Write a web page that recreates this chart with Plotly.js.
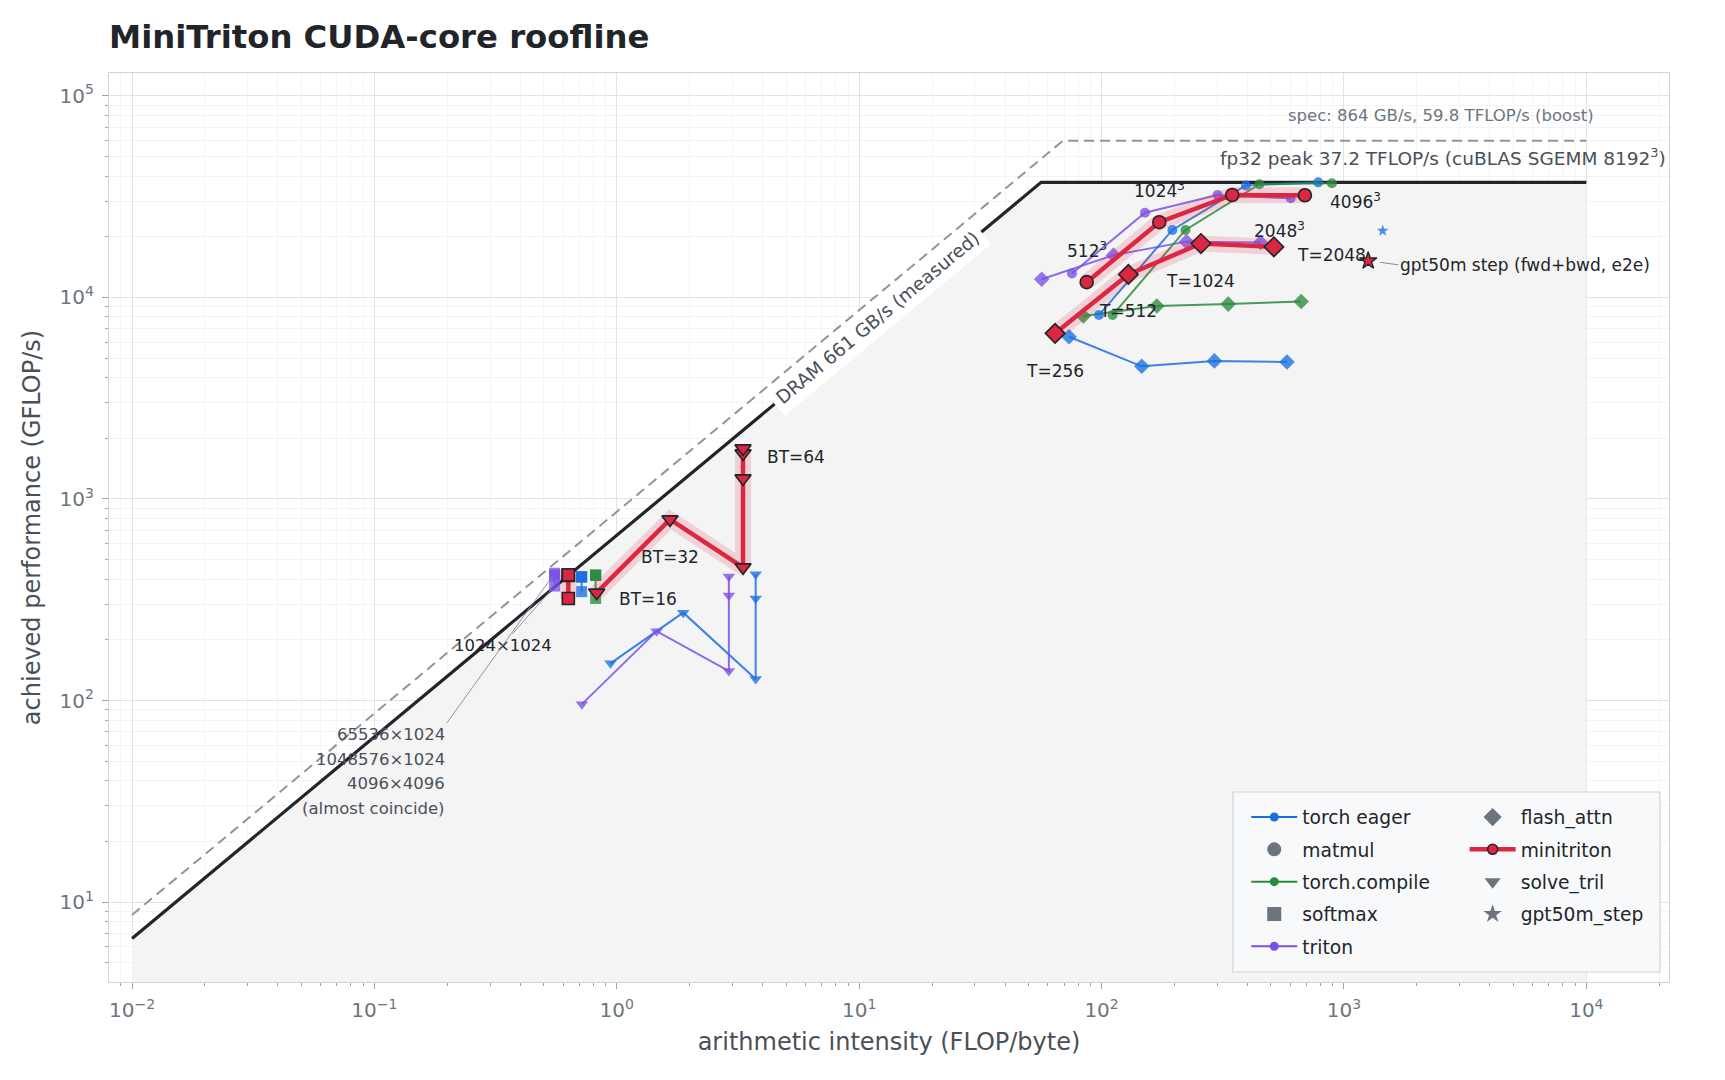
<!DOCTYPE html>
<html>
<head>
<meta charset="utf-8">
<script src="https://cdn.plot.ly/plotly-3.0.1.min.js"></script>
<style>
    html, body { margin: 0; padding: 0; background: #fff; }
    #plotDiv { width: 1725px; height: 1080px; }
</style>
</head>
<body>
<div id="plotDiv"></div>
<script>
// roofline corners (FLOP/byte, GFLOP/s)
const roofX = [0.01, 56.3, 10000];
const roofY = [6.61, 37200, 37200];
const specX = [0.01, 69.2, 10000];
const specY = [8.64, 59800, 59800];

// matmul 512^3 .. 4096^3
const matmulLabels = ['512<sup>3</sup>', '1024<sup>3</sup>', '2048<sup>3</sup>', '4096<sup>3</sup>'];
const matmulEagerAI = [97.5, 196, 394, 783];
const matmulEagerPerf = [8170, 21600, 35900, 37200];
const matmulCompileAI = [111, 222, 448, 892];
const matmulCompilePerf = [8170, 21600, 36400, 36800];
const matmulTritonAI = [75.5, 151, 301, 603];
const matmulTritonPerf = [13150, 26300, 32200, 31000];
const matmulMiniAI = [86.8, 173, 346, 690];
const matmulMiniPerf = [11900, 23600, 32200, 32100];

// flash_attn T=256 .. 2048
const flashLabels = ['T=256', 'T=512', 'T=1024', 'T=2048'];
const flashEagerAI = [73.4, 146.5, 292, 582];
const flashEagerPerf = [6380, 4550, 4840, 4780];
const flashCompileAI = [84.1, 169, 333, 666];
const flashCompilePerf = [8080, 9060, 9260, 9540];
const flashTritonAI = [56.6, 112, 224, 453];
const flashTritonPerf = [12300, 16200, 18900, 18700];
const flashMiniAI = [64.3, 129, 257, 514];
const flashMiniPerf = [6630, 13000, 18500, 17800];

// softmax 1024x1024, 65536x1024, 1048576x1024, 4096x4096
const softmaxEagerAI = [0.716, 0.716, 0.716, 0.716];
const softmaxEagerPerf = [347, 411, 409, 412];
const softmaxCompileAI = [0.818, 0.818, 0.818, 0.818];
const softmaxCompilePerf = [321, 419, 417, 420];
const softmaxTritonAI = [0.554, 0.554, 0.554, 0.554];
const softmaxTritonPerf = [370, 428, 420, 414];
const softmaxMiniAI = [0.631, 0.631, 0.631, 0.631];
const softmaxMiniPerf = [321, 419, 417, 420];

// solve_tril BT=16 / 32 / 64
const trilEagerAI = [0.942, 1.88, 3.74, 3.74, 3.74];
const trilEagerPerf = [153, 273, 128, 321, 423];
const trilTritonAI = [0.718, 1.46, 2.90, 2.90, 2.90];
const trilTritonPerf = [96, 221, 140, 332, 412];
const trilMiniAI = [0.826, 1.658, 3.317, 3.317, 3.317, 3.317];
const trilMiniPerf = [343, 792, 458, 1265, 1683, 1782];

// gpt50m step, end to end
const stepEagerAI = [1445];
const stepEagerPerf = [21400];
const stepMiniAI = [1259];
const stepMiniPerf = [15190];

const xTickVals = [0.01, 0.1, 1, 10, 100, 1000, 10000];
const xTickText = ['10<sup>−2</sup>', '10<sup>−1</sup>', '10<sup>0</sup>', '10<sup>1</sup>', '10<sup>2</sup>', '10<sup>3</sup>', '10<sup>4</sup>'];
const yTickVals = [10, 100, 1000, 10000, 100000];
const yTickText = ['10<sup>1</sup>', '10<sup>2</sup>', '10<sup>3</sup>', '10<sup>4</sup>', '10<sup>5</sup>'];

const colors = {
    eager: '#1a6fe0',
    compile: '#2b8a3e',
    triton: '#7b50e6',
    mini: '#dc2743',
    category: '#6c757d',
    ink: '#212529'
};

function rgba(hex, a) {
    let n = parseInt(hex.slice(1), 16);
    return `rgba(${n >> 16},${(n >> 8) & 255},${n & 255},${a})`;
}

const symbolSize = {circle: 10, square: 11, diamond: 12, 'triangle-down': 11, star: 9};

function frameworkTrace(x, y, color, symbol) {
    return {
        x: x, y: y, type: 'scatter', mode: 'lines+markers',
        line: {color: rgba(color, 0.85), width: 2},
        marker: {symbol: symbol, size: symbolSize[symbol], color: color, opacity: 0.78, line: {width: 0}},
        showlegend: false, hoverinfo: 'skip'
    };
}

function miniTraces(x, y, symbol, size) {
    return [{
        x: x, y: y, type: 'scatter', mode: 'lines',
        line: {color: rgba(colors.mini, 0.17), width: 16},
        showlegend: false, hoverinfo: 'skip'
    }, {
        x: x, y: y, type: 'scatter', mode: 'lines+markers',
        line: {color: colors.mini, width: 4.5},
        marker: {symbol: symbol, size: size, color: colors.mini, line: {color: colors.ink, width: 1.6}},
        showlegend: false, hoverinfo: 'skip'
    }];
}

let traces = [];

// shaded region under the measured roof
traces.push({
    x: [roofX[0]].concat(roofX, [roofX[roofX.length - 1]]),
    y: [1].concat(roofY, [1]),
    type: 'scatter', mode: 'lines', fill: 'toself',
    fillcolor: '#f4f4f5', line: {width: 0},
    showlegend: false, hoverinfo: 'skip'
});
traces.push({
    x: specX, y: specY, type: 'scatter', mode: 'lines',
    line: {color: '#90959b', width: 2, dash: '10px,6px'},
    showlegend: false, hoverinfo: 'skip'
});
traces.push({
    x: roofX, y: roofY, type: 'scatter', mode: 'lines',
    line: {color: colors.ink, width: 3.2},
    showlegend: false, hoverinfo: 'skip'
});

traces.push(frameworkTrace(flashEagerAI, flashEagerPerf, colors.eager, 'diamond'));
traces.push(frameworkTrace(flashCompileAI, flashCompilePerf, colors.compile, 'diamond'));
traces.push(frameworkTrace(flashTritonAI, flashTritonPerf, colors.triton, 'diamond'));
traces.push(frameworkTrace(matmulEagerAI, matmulEagerPerf, colors.eager, 'circle'));
traces.push(frameworkTrace(matmulCompileAI, matmulCompilePerf, colors.compile, 'circle'));
traces.push(frameworkTrace(matmulTritonAI, matmulTritonPerf, colors.triton, 'circle'));
traces.push(frameworkTrace(softmaxEagerAI, softmaxEagerPerf, colors.eager, 'square'));
traces.push(frameworkTrace(softmaxCompileAI, softmaxCompilePerf, colors.compile, 'square'));
traces.push(frameworkTrace(softmaxTritonAI, softmaxTritonPerf, colors.triton, 'square'));
traces.push(frameworkTrace(trilEagerAI, trilEagerPerf, colors.eager, 'triangle-down'));
traces.push(frameworkTrace(trilTritonAI, trilTritonPerf, colors.triton, 'triangle-down'));
traces.push(frameworkTrace(stepEagerAI, stepEagerPerf, colors.eager, 'star'));

traces = traces.concat(
    miniTraces(softmaxMiniAI, softmaxMiniPerf, 'square', 12),
    miniTraces(trilMiniAI, trilMiniPerf, 'triangle-down', 14),
    miniTraces(flashMiniAI, flashMiniPerf, 'diamond', 15),
    miniTraces(matmulMiniAI, matmulMiniPerf, 'circle', 13)
);
traces.push({
    x: stepMiniAI, y: stepMiniPerf, type: 'scatter', mode: 'markers',
    marker: {symbol: 'star', size: 13, color: colors.mini, line: {color: colors.ink, width: 1.4}},
    showlegend: false, hoverinfo: 'skip'
});

// legend entries: two columns, two legends
function legendEntry(name, legend, opts) {
    return Object.assign({
        x: [null], y: [null], type: 'scatter', name: name, legend: legend,
        legendgroup: name, showlegend: true, hoverinfo: 'skip'
    }, opts);
}
function frameworkEntry(name, color) {
    return legendEntry(name, 'legend', {
        mode: 'lines+markers', line: {color: color, width: 2},
        marker: {symbol: 'circle', size: 9, color: color}
    });
}
function categoryEntry(name, legend, symbol) {
    return legendEntry(name, legend, {
        mode: 'markers', marker: {symbol: symbol, size: 14, color: colors.category}
    });
}
traces.push(frameworkEntry('torch eager', colors.eager));
traces.push(categoryEntry('matmul', 'legend', 'circle'));
traces.push(frameworkEntry('torch.compile', colors.compile));
traces.push(categoryEntry('softmax', 'legend', 'square'));
traces.push(frameworkEntry('triton', colors.triton));
traces.push(categoryEntry('flash_attn', 'legend2', 'diamond'));
traces.push(legendEntry('minitriton', 'legend2', {
    mode: 'lines+markers', line: {color: colors.mini, width: 4.5},
    marker: {symbol: 'circle', size: 10, color: colors.mini, line: {color: colors.ink, width: 1.5}}
}));
traces.push(categoryEntry('solve_tril', 'legend2', 'triangle-down'));
traces.push(categoryEntry('gpt50m_step', 'legend2', 'star'));

function lg(v) {
    return Math.log10(v);
}

function pointLabel(x, y, text, xshift, yshift, xanchor) {
    return {
        x: lg(x), y: lg(y), xref: 'x', yref: 'y', text: text, showarrow: false,
        xshift: xshift, yshift: yshift, xanchor: xanchor, yanchor: 'middle',
        font: {size: 17, color: colors.ink}
    };
}

let annotations = [
    pointLabel(matmulMiniAI[0], matmulMiniPerf[0], matmulLabels[0], 0, 32, 'center'),
    pointLabel(matmulMiniAI[1], matmulMiniPerf[1], matmulLabels[1], 0, 32, 'center'),
    pointLabel(matmulMiniAI[2], matmulMiniPerf[2], matmulLabels[2], 20, -35, 'left'),
    pointLabel(matmulMiniAI[3], matmulMiniPerf[3], matmulLabels[3], 23, -6, 'left'),
    pointLabel(flashMiniAI[0], flashMiniPerf[0], flashLabels[0], 0, -38, 'center'),
    pointLabel(flashMiniAI[1], flashMiniPerf[1], flashLabels[1], 0, -37, 'center'),
    pointLabel(flashMiniAI[2], flashMiniPerf[2], flashLabels[2], 0, -37, 'center'),
    pointLabel(flashMiniAI[3], flashMiniPerf[3], flashLabels[3], 21, -8, 'left'),
    pointLabel(trilMiniAI[0], trilMiniPerf[0], 'BT=16', 20, -6, 'left'),
    pointLabel(trilMiniAI[1], trilMiniPerf[1], 'BT=32', 0, -38, 'center'),
    pointLabel(trilMiniAI[5], trilMiniPerf[5], 'BT=64', 22, -9, 'left'),
    {
        x: lg(stepMiniAI[0]), y: lg(stepMiniPerf[0]), xref: 'x', yref: 'y',
        text: 'gpt50m step (fwd+bwd, e2e)', showarrow: true, arrowhead: 0,
        arrowwidth: 1, arrowcolor: '#868e96', ax: 30, ay: 4, xanchor: 'left',
        standoff: 12, font: {size: 17, color: colors.ink}
    },
    {
        x: lg(softmaxTritonAI[0]), y: lg(softmaxTritonPerf[0]), xref: 'x', yref: 'y',
        text: '1024×1024', showarrow: true, arrowhead: 0, arrowwidth: 0.9,
        arrowcolor: '#868e96', ax: -52, ay: 59, standoff: 3,
        font: {size: 16.5, color: colors.ink}
    },
    {
        x: lg(softmaxTritonAI[1]), y: lg(softmaxTritonPerf[1]), xref: 'x', yref: 'y',
        text: '65536×1024', showarrow: true, arrowhead: 0, arrowwidth: 0.9,
        arrowcolor: '#868e96', ax: -108, ay: 150, xanchor: 'right', yanchor: 'top',
        standoff: 3, font: {size: 16.5, color: '#495057'}
    }
];
['1048576×1024', '4096×4096', '(almost coincide)'].forEach((t, i) => {
    annotations.push({
        x: lg(softmaxTritonAI[1]), y: lg(softmaxTritonPerf[1]), xref: 'x', yref: 'y',
        text: t, showarrow: false, xanchor: 'right', yanchor: 'middle',
        xshift: -108, yshift: -186 - 24.7 * i, font: {size: 16.5, color: '#495057'}
    });
});
annotations.push({
    x: lg(11.96), y: lg(661 * 11.96), xref: 'x', yref: 'y',
    text: 'DRAM 661 GB/s (measured)', showarrow: false, textangle: -39.75,
    bgcolor: '#ffffff', borderpad: 5, font: {size: 18.5, color: '#495057'}
});
annotations.push({
    x: lg(10000), y: lg(roofY[2]), xref: 'x', yref: 'y',
    text: 'fp32 peak 37.2 TFLOP/s (cuBLAS SGEMM 8192<sup>3</sup>)', showarrow: false,
    xanchor: 'right', yanchor: 'bottom', xshift: 82, yshift: 11,
    font: {size: 18.5, color: '#495057'}
});
annotations.push({
    x: lg(10000), y: lg(specY[2]), xref: 'x', yref: 'y',
    text: 'spec: 864 GB/s, 59.8 TFLOP/s (boost)', showarrow: false,
    xanchor: 'right', yanchor: 'bottom', xshift: 10, yshift: 14,
    font: {size: 16.5, color: '#6c757d'}
});

const axisCommon = {
    type: 'log',
    showgrid: true, gridcolor: '#dfe3e8', gridwidth: 1,
    showline: true, mirror: true, linecolor: '#cfd4da', linewidth: 1.2,
    ticks: 'outside', ticklen: 6, tickcolor: '#9aa1a8', tickwidth: 1,
    ticklabelstandoff: 4,
    zeroline: false,
    tickfont: {size: 20, color: '#6c757d'},
    minor: {dtick: 'D1', showgrid: true, gridcolor: '#eff1f4', gridwidth: 0.8, ticks: 'outside', ticklen: 3, tickcolor: '#9aa1a8'}
};

const layout = {
    width: 1725, height: 1080,
    margin: {l: 109, r: 56, t: 73, b: 98},
    paper_bgcolor: '#ffffff', plot_bgcolor: '#ffffff',
    font: {family: 'DejaVu Sans, sans-serif', color: colors.ink},
    title: {
        text: '<b>MiniTriton CUDA-core roofline</b>', xref: 'container', yref: 'container',
        x: 109 / 1725, xanchor: 'left', y: 1 - 37 / 1080, yanchor: 'middle',
        font: {size: 32.3, color: colors.ink}
    },
    xaxis: Object.assign({}, axisCommon, {
        range: [-2.095, 4.341], tickvals: xTickVals, ticktext: xTickText,
        title: {text: 'arithmetic intensity (FLOP/byte)', standoff: 12, font: {size: 24, color: '#495057'}}
    }),
    yaxis: Object.assign({}, axisCommon, {
        range: [0.604, 5.113], tickvals: yTickVals, ticktext: yTickText,
        title: {text: 'achieved performance (GFLOP/s)', standoff: 12, font: {size: 24, color: '#495057'}}
    }),
    shapes: [{
        type: 'rect', xref: 'paper', yref: 'paper',
        x0: 0.7205, x1: 0.9942, y0: 0.011, y1: 0.209,
        fillcolor: '#f8f9fa', line: {color: '#ced4da', width: 1.2}, layer: 'above'
    }],
    legend: {
        x: 0.729, y: 0.202, xanchor: 'left', yanchor: 'top',
        bgcolor: 'rgba(0,0,0,0)', font: {size: 18.7, color: colors.ink},
        itemwidth: 46, traceorder: 'grouped', tracegroupgap: 5
    },
    legend2: {
        x: 0.869, y: 0.202, xanchor: 'left', yanchor: 'top',
        bgcolor: 'rgba(0,0,0,0)', font: {size: 18.7, color: colors.ink},
        itemwidth: 46, traceorder: 'grouped', tracegroupgap: 5
    },
    annotations: annotations,
    showlegend: true
};

Plotly.newPlot('plotDiv', traces, layout, {displayModeBar: false, staticPlot: true});
</script>
</body>
</html>
